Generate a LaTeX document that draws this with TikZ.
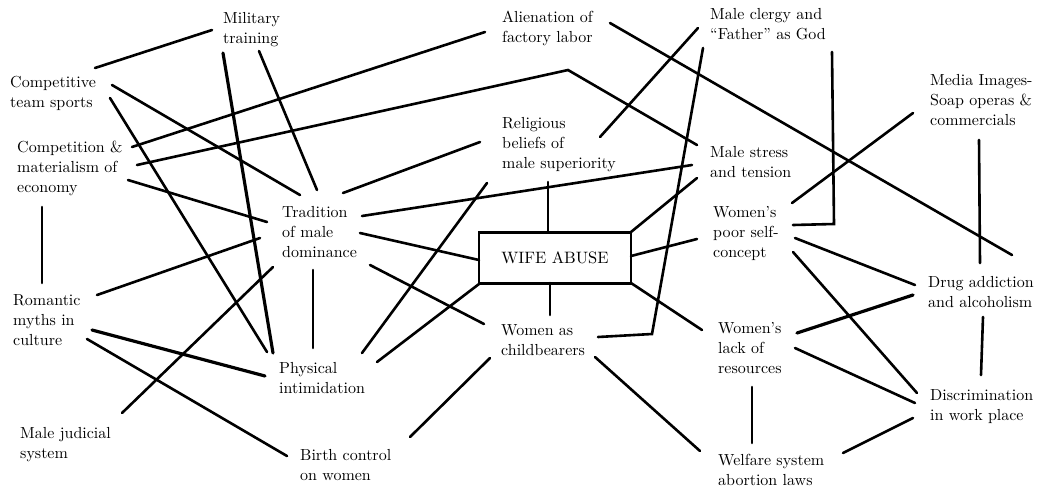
\documentclass[tikz,border=0pt]{standalone}
\usepackage{fontspec}
\newfontfamily\lblfont{lmroman10-regular.otf}[Ligatures=TeX]
\begin{document}
\begin{tikzpicture}[x=1pt,y=-1pt,
  lbl/.style={anchor=north west, inner sep=0pt, align=left, font=\lblfont\fontsize{16}{20}\selectfont},
  conn/.style={line width=2.6pt, line cap=round, line join=miter},
  heavy/.style={conn, line width=3.2pt},
  boxnode/.style={draw, line width=2.6pt, minimum width=152pt, minimum height=51pt, inner sep=0pt, font=\lblfont\fontsize{16.5}{20}\selectfont}]
\fill[white] (0,0) rectangle (1044,491);
\useasboundingbox (0,0) rectangle (1044,491);

% ---- text nodes ----
\node[lbl] (mil) at (223,12) {Military\\training};
\node[lbl] (ali) at (502,11) {Alienation of\\factory labor};
\node[lbl] (cler) at (710,8) {Male clergy and\\“Father” as God};
\node[lbl] (comp) at (10,76) {Competitive\\team sports};
\node[lbl] (econ) at (17,141) {Competition \&\\materialism of\\economy};
\node[lbl] (rel) at (502,117) {Religious\\beliefs of\\male superiority};
\node[lbl] (trad) at (282,206) {Tradition\\of male\\dominance};
\node[lbl] (stress) at (710,146) {Male stress\\and tension};
\node[lbl] (media) at (930,74) {Media Images-\\Soap operas \&\\commercials};
\node[lbl] (poor) at (713,206) {Women’s\\poor self-\\concept};
\node[boxnode] (wife) at (555,258) {WIFE ABUSE};
\node[lbl] (rom) at (13,294) {Romantic\\myths in\\culture};
\node[lbl] (drug) at (928,276) {Drug addiction\\and alcoholism};
\node[lbl] (child) at (501,324) {Women as\\childbearers};
\node[lbl] (lack) at (718,322) {Women’s\\lack of\\resources};
\node[lbl] (phys) at (279,362) {Physical\\intimidation};
\node[lbl] (disc) at (930,389) {Discrimination\\in work place};
\node[lbl] (jud) at (20,427) {Male judicial\\system};
\node[lbl] (birth) at (300,449) {Birth control\\on women};
\node[lbl] (welf) at (718,454) {Welfare system\\abortion laws};

% ---- connector end points ----
\coordinate (comp-mil) at (95,68);   \coordinate (mil-comp) at (212,30);
\coordinate (mil-phys) at (223,53);  \coordinate (phys-mil) at (273,353);
\coordinate (mil-trad) at (259,51);  \coordinate (trad-mil) at (317,190);
\coordinate (comp-trad) at (112,85); \coordinate (trad-comp) at (300,195);
\coordinate (comp-phys) at (110,98); \coordinate (phys-comp) at (267,352);
\coordinate (econ-ali) at (132,147); \coordinate (ali-econ) at (485,32);
\coordinate (econ-str) at (137,165); \coordinate (bend-str) at (568,70); \coordinate (str-econ) at (697,145);
\coordinate (econ-trad) at (128,180);\coordinate (trad-econ) at (267,222);
\coordinate (econ-rom) at (42,207);  \coordinate (rom-econ) at (42,283);
\coordinate (rom-trad) at (97,295);  \coordinate (trad-rom) at (260,238);
\coordinate (rom-phys) at (92,330);  \coordinate (phys-rom) at (265,376);
\coordinate (rom-birth) at (87,339); \coordinate (birth-rom) at (287,456);
\coordinate (jud-trad) at (122,413); \coordinate (trad-jud) at (273,267);
\coordinate (trad-rel) at (343,193); \coordinate (rel-trad) at (480,142);
\coordinate (trad-str) at (362,216); \coordinate (str-trad) at (692,165);
\coordinate (trad-wife) at (360,233);\coordinate (wife-trad) at (479,260);
\coordinate (trad-child) at (370,265);\coordinate (child-trad) at (484,324);
\coordinate (trad-phys) at (313,270);\coordinate (phys-trad) at (313,348);
\coordinate (rel-phys) at (487,183); \coordinate (phys-rel) at (362,353);
\coordinate (rel-wife) at (548,182); \coordinate (wife-rel) at (548,232);
\coordinate (cler-rel) at (698,28);  \coordinate (rel-cler) at (600,137);
\coordinate (cler-child) at (703,48);\coordinate (bend-child) at (652,334); \coordinate (child-cler) at (598,337);
\coordinate (cler-poor) at (832,52); \coordinate (bend-poor) at (834,224); \coordinate (poor-cler) at (793,225);
\coordinate (ali-drug) at (610,23);  \coordinate (drug-ali) at (1012,255);
\coordinate (wife-str) at (631,232); \coordinate (str-wife) at (697,178);
\coordinate (wife-poor) at (631,256);\coordinate (poor-wife) at (697,239);
\coordinate (wife-lack) at (631,283);\coordinate (lack-wife) at (702,330);
\coordinate (wife-phys) at (479,284);\coordinate (phys-wife) at (377,362);
\coordinate (wife-child) at (550,283);\coordinate (child-wife) at (550,315);
\coordinate (child-birth) at (490,358);\coordinate (birth-child) at (410,437);
\coordinate (child-welf) at (595,357);\coordinate (welf-child) at (700,451);
\coordinate (media-poor) at (913,113);\coordinate (poor-media) at (792,203);
\coordinate (media-drug) at (979,140);\coordinate (drug-media) at (980,263);
\coordinate (poor-drug) at (795,238); \coordinate (drug-poor) at (915,285);
\coordinate (poor-disc) at (793,252); \coordinate (disc-poor) at (917,393);
\coordinate (lack-drug) at (797,333); \coordinate (drug-lack) at (913,295);
\coordinate (lack-disc) at (795,348); \coordinate (disc-lack) at (915,403);
\coordinate (lack-welf) at (752,387); \coordinate (welf-lack) at (752,443);
\coordinate (drug-disc) at (983,317); \coordinate (disc-drug) at (981,375);
\coordinate (welf-disc) at (843,453); \coordinate (disc-welf) at (913,418);

% ---- connectors ----
\draw[conn] (comp-mil) -- (mil-comp);
\draw[heavy] (mil-phys) -- (phys-mil);
\draw[conn] (mil-trad) -- (trad-mil);
\draw[conn] (comp-trad) -- (trad-comp);
\draw[conn] (comp-phys) -- (phys-comp);
\draw[conn] (econ-ali) -- (ali-econ);
\draw[conn] (econ-str) -- (bend-str) -- (str-econ);
\draw[conn] (econ-trad) -- (trad-econ);
\draw[conn] (econ-rom) -- (rom-econ);
\draw[conn] (rom-trad) -- (trad-rom);
\draw[heavy] (rom-phys) -- (phys-rom);
\draw[conn] (rom-birth) -- (birth-rom);
\draw[conn] (jud-trad) -- (trad-jud);
\draw[conn] (trad-rel) -- (rel-trad);
\draw[conn] (trad-str) -- (str-trad);
\draw[conn] (trad-wife) -- (wife-trad);
\draw[conn] (trad-child) -- (child-trad);
\draw[conn] (trad-phys) -- (phys-trad);
\draw[conn] (rel-phys) -- (phys-rel);
\draw[conn] (rel-wife) -- (wife-rel);
\draw[conn] (cler-rel) -- (rel-cler);
\draw[conn] (cler-child) -- (bend-child) -- (child-cler);
\draw[conn] (cler-poor) -- (bend-poor) -- (poor-cler);
\draw[conn] (ali-drug) -- (drug-ali);
\draw[conn] (wife-str) -- (str-wife);
\draw[conn] (wife-poor) -- (poor-wife);
\draw[conn] (wife-lack) -- (lack-wife);
\draw[conn] (wife-phys) -- (phys-wife);
\draw[conn] (wife-child) -- (child-wife);
\draw[conn] (child-birth) -- (birth-child);
\draw[conn] (child-welf) -- (welf-child);
\draw[conn] (media-poor) -- (poor-media);
\draw[conn] (media-drug) -- (drug-media);
\draw[conn] (poor-drug) -- (drug-poor);
\draw[conn] (poor-disc) -- (disc-poor);
\draw[heavy] (lack-drug) -- (drug-lack);
\draw[conn] (lack-disc) -- (disc-lack);
\draw[conn] (lack-welf) -- (welf-lack);
\draw[conn] (drug-disc) -- (disc-drug);
\draw[conn] (welf-disc) -- (disc-welf);
\end{tikzpicture}
\end{document}
